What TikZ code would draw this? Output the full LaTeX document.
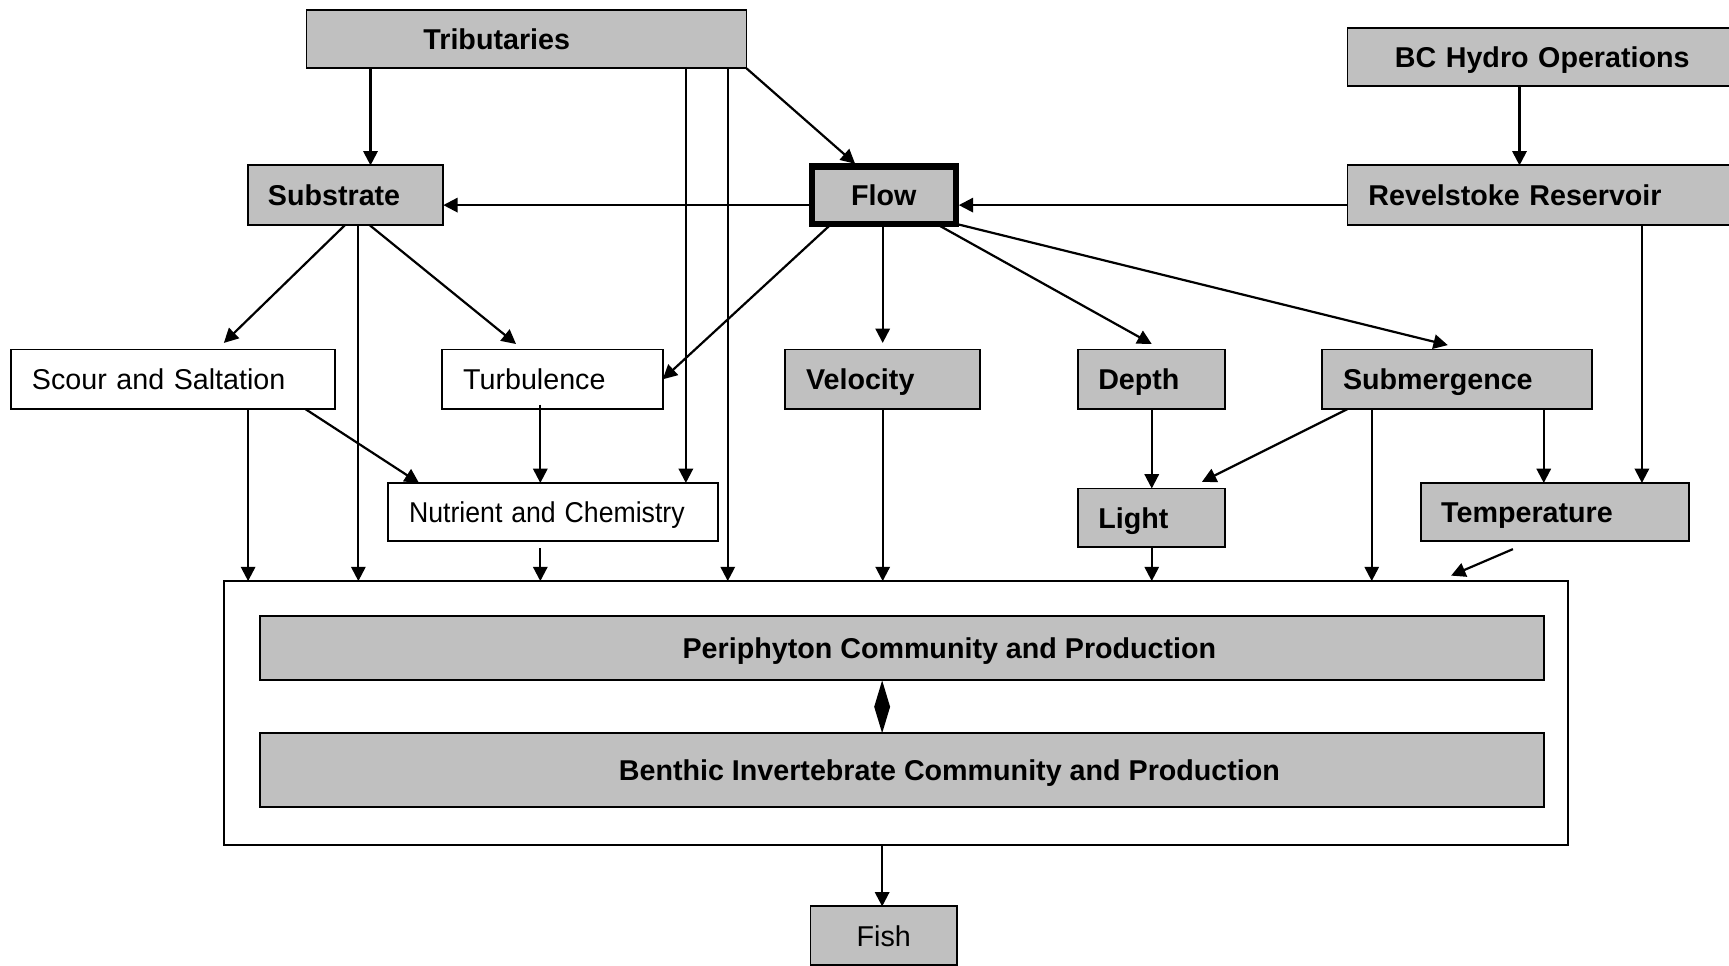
\documentclass[tikz,border=0pt]{standalone}
\usepackage{fontspec}
\setmainfont{Liberation Sans}
\usetikzlibrary{arrows.meta}
\definecolor{boxgray}{HTML}{C0C0C0}
\begin{document}
\begin{tikzpicture}[x=1pt,y=-1pt,
  base/.style={draw, line width=1.7pt, inner ysep=0pt, outer sep=0pt,
    font=\fontsize{26}{31}\selectfont, text height=19pt, text depth=0pt},
  gbox/.style={base, fill=boxgray, font=\fontsize{26}{31}\selectfont\bfseries},
  wbox/.style={base, fill=white},
  lb/.style n args={4}{anchor=north west, minimum width=#1pt, minimum height=#2pt,
    inner xsep=#3pt, text width=#4pt, align=left},
  arr/.style={line width=2pt, -{Triangle[length=13pt,width=13pt]}},
  dbl/.style={line width=1.5pt, {Triangle[length=24pt,width=14pt]}-{Triangle[length=24pt,width=14pt]}}
]
\useasboundingbox (0,0) rectangle (1568,876);

% boxes
\node[gbox, lb={399}{53}{106}{187}] (tri) at (278,9) {Tributaries};
\node[gbox, lb={400}{53}{43}{314}] (bch) at (1222,25) {BC Hydro Operations};
\node[gbox, lb={177}{54}{18}{141}] (sub) at (225,150) {Substrate};
\node[gbox, line width=5.5pt, minimum width=131pt, minimum height=52pt, inner xsep=0pt] (flow) at (801.5,177) {Flow};
\node[gbox, lb={400}{54}{19}{362}] (rev) at (1222,150) {Revelstoke Reservoir};
\node[wbox, lb={294}{54}{19}{256}] (scour) at (10,317) {Scour and Saltation};
\node[wbox, lb={200}{54}{19}{162}] (turb) at (401,317) {Turbulence};
\node[gbox, lb={177}{54}{19}{139}] (vel) at (712,317) {Velocity};
\node[gbox, lb={133}{54}{18}{97}] (depth) at (978,317) {Depth};
\node[gbox, lb={245}{54}{19}{207}] (subm) at (1199,317) {Submergence};
\node[wbox, lb={299}{53}{19}{261}] (nutr) at (352,438) {\scalebox{0.93}[1]{Nutrient and Chemistry}};
\node[gbox, lb={133}{53}{18}{97}] (light) at (978,443) {Light};
\node[gbox, lb={243}{53}{18}{207}] (temp) at (1289,438) {Temperature};

\node[draw, line width=1.7pt, outer sep=0pt, anchor=north west, minimum width=1219pt, minimum height=239pt] (cont) at (203,527) {};
\node[gbox, anchor=north west, minimum width=1164pt, minimum height=58pt] (peri) at (236,559) {\hspace*{86pt}Periphyton Community and Production};
\node[gbox, anchor=north west, minimum width=1164pt, minimum height=67pt] (bent) at (236,665) {\hspace*{86pt}Benthic Invertebrate Community and Production};
\node[gbox, font=\fontsize{26}{31}\selectfont, anchor=north west, minimum width=133pt, minimum height=53pt] (fish) at (735,822) {Fish};

% connectors
\draw[arr] ([xshift=58pt]tri.south west) -- ([xshift=111pt]sub.north west);
\draw[arr] ([xshift=344pt]tri.south west) -- ([xshift=270pt]nutr.north west);
\draw[arr] ([xshift=382pt]tri.south west) -- ([xshift=457pt]cont.north west);
\draw[arr] (tri.south east) -- ([xshift=-26pt,yshift=2.5pt]flow.north);
\draw[arr] ([yshift=-9pt]flow.west) -- ([yshift=-9pt]sub.east);
\draw[arr] ([yshift=-9pt]rev.west) -- ([xshift=2.5pt,yshift=-9pt]flow.east);
\draw[arr] ([xshift=156pt]bch.south west) -- ([xshift=156pt]rev.north west);
\draw[arr] ([xshift=18pt]flow.south west) -- (turb.east);
\draw[arr] (vel.north |- flow.south) -- ([yshift=6pt]vel.north);
\draw[arr] ([xshift=-18pt]flow.south east) -- ([yshift=5pt]depth.north);
\draw[arr] (flow.south east) -- ([xshift=114pt,yshift=4pt]subm.north west);
\draw[arr] ([xshift=88pt]sub.south west) -- ([xshift=193pt,yshift=6pt]scour.north west);
\draw[arr] ([xshift=100pt]sub.south west) -- ([xshift=122pt]cont.north west);
\draw[arr] ([xshift=110pt]sub.south west) -- ([xshift=67pt,yshift=5pt]turb.north west);
\draw[arr] ([xshift=215pt]scour.south west) -- ([xshift=22pt]cont.north west);
\draw[arr] ([xshift=267pt]scour.south west) -- ([xshift=28pt]nutr.north west);
\draw[arr] ([xshift=89pt,yshift=4pt]turb.south west) -- ([xshift=138pt]nutr.north west);
\draw[arr] ([xshift=138pt,yshift=-6pt]nutr.south west) -- ([xshift=287pt]cont.north west);
\draw[arr] (vel.south) -- (vel.south |- cont.north);
\draw[arr] (depth.south) -- (light.north);
\draw[arr] (light.south) -- (light.south |- cont.north);
\draw[arr] ([xshift=23pt]subm.south west) -- ([xshift=112pt,yshift=6pt]light.north west);
\draw[arr] ([xshift=45pt]subm.south west) -- ([xshift=1041pt]cont.north west);
\draw[arr] ([xshift=201pt]subm.south west) -- ([xshift=111pt]temp.north west);
\draw[arr] ([xshift=267pt]rev.south west) -- ([xshift=200pt]temp.north west);
\draw[arr] ([xshift=83pt,yshift=-7pt]temp.south west) -- ([xshift=1113pt,yshift=5pt]cont.north west);
\draw[dbl] ([xshift=564pt]peri.south west) -- ([xshift=564pt]bent.north west);
\draw[arr] ([xshift=597pt]cont.south west) -- ([xshift=65pt]fish.north west);
\end{tikzpicture}
\end{document}
